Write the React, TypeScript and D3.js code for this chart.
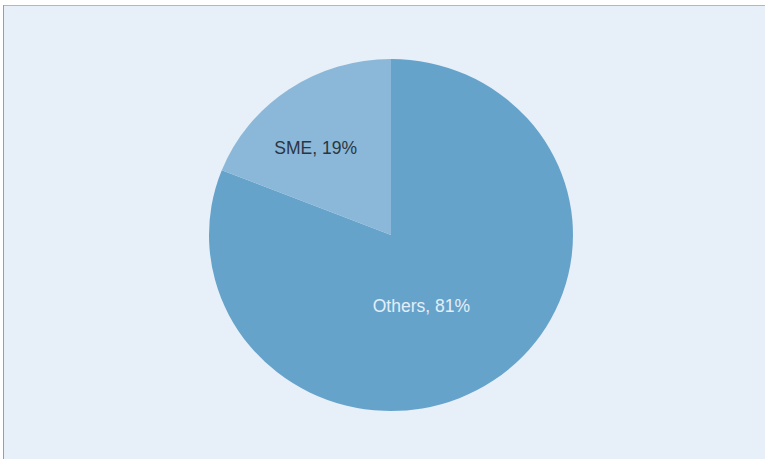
import React from "react";
import * as d3 from "d3";

const categories = ["Others", "SME"];
const shares = [81, 19];
const sliceColors = ["#66a3cb", "#8bb8d8"];
const labelColors = ["#e4eef8", "#2a3644"];
const labelNudge = [
  [-31, -16],
  [-14, 0],
];

const W = 765;
const H = 459;
const cx = 391;
const cy = 235;
const ry = 176;
const rx = 182;

export default function App() {
  const data = categories.map((c, i) => ({ name: c, value: shares[i], i }));
  const pie = d3
    .pie<any>()
    .sort(null)
    .value((d: any) => d.value)
    .startAngle(0)
    .endAngle(2 * Math.PI);
  const arcs = pie(data);
  const arc = d3.arc<any>().innerRadius(0).outerRadius(ry);
  const labelArc = d3.arc<any>().innerRadius(ry * 0.6).outerRadius(ry * 0.6);
  const sx = rx / ry;
  return (
    <svg
      width={W}
      height={H}
      style={{ position: "absolute", left: 0, top: 0 }}
      fontFamily="'Liberation Sans', Arial, sans-serif"
    >
      <rect x={0} y={0} width={W} height={H} fill="#ffffff" />
      <rect x={4} y={6} width={W - 4} height={H - 6} fill="#e7eff8" />
      <line x1={4} y1={5.5} x2={W} y2={5.5} stroke="#b4b8bc" strokeWidth={1} />
      <line x1={3.5} y1={5} x2={3.5} y2={H} stroke="#9a9ea2" strokeWidth={1} />
      <g transform={`translate(${cx},${cy}) scale(${sx},1)`}>
        {arcs.map((a, k) => (
          <path key={k} d={arc(a) as string} fill={sliceColors[a.data.i]} />
        ))}
      </g>
      {arcs.map((a, k) => {
        const [lx, ly] = labelArc.centroid(a);
        const n = labelNudge[a.data.i];
        return (
          <text
            key={k}
            x={cx + lx * sx + n[0]}
            y={cy + ly + n[1]}
            dy="0.35em"
            textAnchor="middle"
            fontSize={17.5}
            fill={labelColors[a.data.i]}
          >
            {`${a.data.name}, ${a.data.value}%`}
          </text>
        );
      })}
    </svg>
  );
}
